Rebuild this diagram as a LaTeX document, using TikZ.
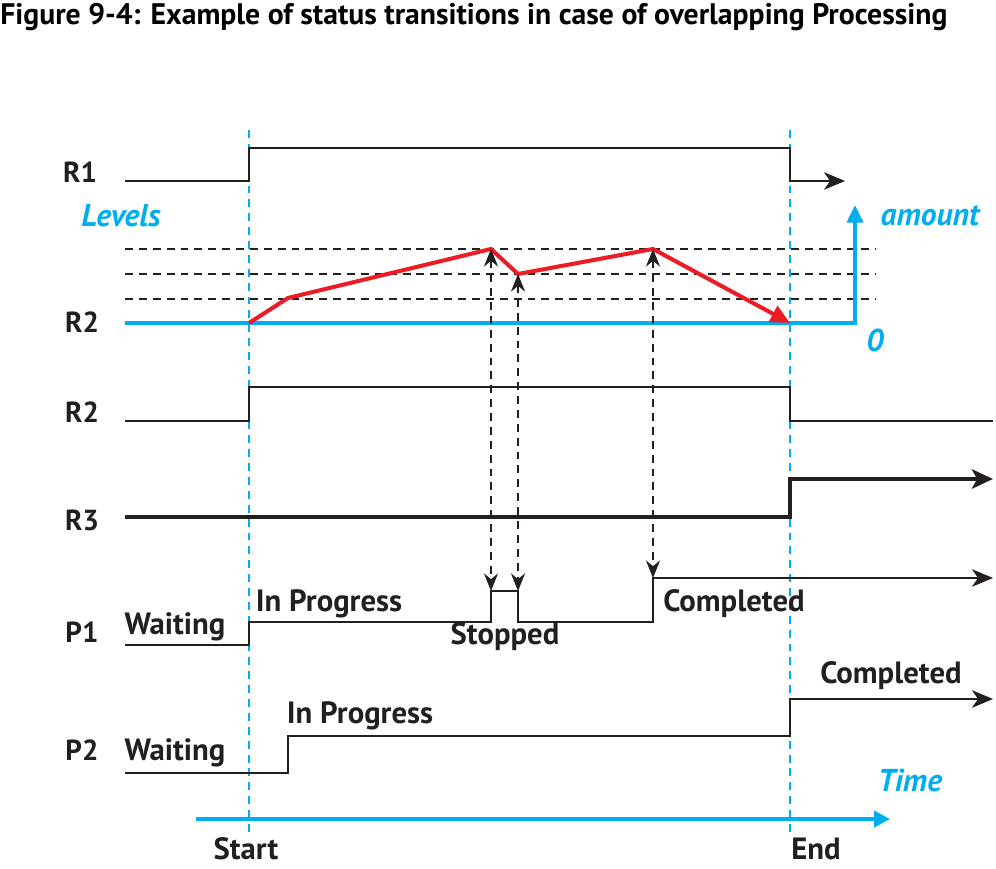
\documentclass[tikz,border=0pt]{standalone}
\usepackage{fontspec}
\setmainfont{PT Sans}
\usetikzlibrary{arrows.meta}
\definecolor{levelblue}{RGB}{0,174,239}
\definecolor{levelred}{RGB}{237,28,36}
\definecolor{inkblack}{RGB}{35,31,32}
\tikzset{
  signal/.style={line width=0.9pt, color=inkblack},
  heavysignal/.style={line width=2.6pt, color=inkblack},
  guide/.style={line width=0.7pt, color=inkblack, dash pattern=on 4.5pt off 3.4pt},
  timemark/.style={line width=0.7pt, color=levelblue, dash pattern=on 4.5pt off 3.4pt},
  sigtip/.style={-{Stealth[length=12pt, width=10pt, inset=3.5pt]}},
  rowname/.style={font=\bfseries\fontsize{16.5}{18}\selectfont, color=inkblack},
  statename/.style={font=\bfseries\fontsize{17.5}{19}\selectfont, color=inkblack},
  axisname/.style={font=\bfseries\itshape\fontsize{18}{20}\selectfont, color=levelblue}
}

\begin{document}
\begin{tikzpicture}[x=0.02cm, y=-0.02cm]
  %%%%% START %%%%%
  \useasboundingbox (0,0) rectangle (996,868);

  \node[anchor=west, font=\bfseries\fontsize{16.9}{19}\selectfont, inner sep=0pt] (title) at (0,17)
    {Figure 9-4: Example of status transitions in case of overlapping Processing};

  % start / end markers
  \coordinate (startTop) at (249,130);
  \coordinate (startBot) at (249,832);
  \coordinate (endTop) at (790,130);
  \coordinate (endBot) at (790,832);
  \draw[timemark] (startTop) -- (startBot);
  \draw[timemark] (endTop) -- (endBot);

  % R1
  \node[rowname] (r1) at (80,172) {R1};
  \draw[signal, sigtip] (125,181) -- (249,181) -- (249,148) -- (790,148) -- (790,181) -- (845,181);

  % levels
  \draw[guide] (125,249) -- (876,249);
  \draw[guide] (125,274) -- (876,274);
  \draw[guide] (125,299) -- (876,299);
  \node[axisname] (levels) at (121,216) {Levels};
  \node[axisname] (amount) at (930,216) {amount};
  \node[axisname] (zero) at (875,340) {0};
  \node[rowname] (r2a) at (82,322) {R2};
  \draw[line width=2.3pt, color=levelblue, -{Triangle[length=10pt, width=9pt]}]
    (125,323) -- (855,323) -- (855,205);

  \coordinate (rise) at (249,323);
  \coordinate (bend) at (288,298);
  \coordinate (peakA) at (491,249);
  \coordinate (dipA) at (518,274);
  \coordinate (peakB) at (653,249);
  \coordinate (empty) at (790,323);
  \draw[line width=2.3pt, color=levelred, line join=miter,
    -{Triangle[length=11pt, width=10pt]}]
    (rise) -- (bend) -- (peakA) -- (dipA) -- (peakB) -- (empty);

  % R2
  \node[rowname] (r2b) at (82,412) {R2};
  \draw[signal] (125,421) -- (249,421) -- (249,387) -- (790,387) -- (790,421) -- (993,421);

  % R3
  \node[rowname] (r3) at (82,520) {R3};
  \draw[heavysignal, -{Stealth[length=12pt, width=11pt, inset=3pt]}]
    (125,517) -- (790,517) -- (790,479) -- (993,479);

  % P1
  \coordinate (stopA) at (491,591);
  \coordinate (stopB) at (518,591);
  \coordinate (doneA) at (653,578);
  \node[rowname] (p1) at (82,632) {P1};
  \node[statename] (p1wait) at (175,627) {Waiting};
  \node[statename] (p1prog) at (329,604) {In Progress};
  \node[statename] (p1stop) at (505,637) {Stopped};
  \node[statename] (p1done) at (734,604) {Completed};
  \draw[signal, sigtip] (125,645) -- (249,645) -- (249,622) -- (491,622) -- (stopA)
    -- (stopB) -- (518,622) -- (653,622) -- (doneA) -- (993,578);

  \draw[guide, {Stealth[length=10pt, width=8pt]}-{Stealth[length=10pt, width=8pt]}] (peakA) -- (stopA);
  \draw[guide, line width=1.2pt, {Stealth[length=10pt, width=8pt]}-{Stealth[length=10pt, width=8pt]}] (dipA) -- (stopB);
  \draw[guide, {Stealth[length=10pt, width=8pt]}-{Stealth[length=10pt, width=8pt]}] (peakB) -- (doneA);

  % P2
  \node[rowname] (p2) at (82,750) {P2};
  \node[statename] (p2wait) at (175,753) {Waiting};
  \node[statename] (p2prog) at (360,716) {In Progress};
  \node[statename] (p2done) at (891,676) {Completed};
  \draw[signal, sigtip] (125,773) -- (288,773) -- (288,736) -- (790,736) -- (790,699) -- (993,699);

  % time axis
  \node[axisname] (time) at (910,780) {Time};
  \node[statename] (start) at (246,849) {Start};
  \node[statename] (end) at (816,849) {End};
  \draw[line width=2.3pt, color=levelblue, -{Triangle[length=9pt, width=9pt]}] (196,819) -- (890,819);

  %%%%% END %%%%%
\end{tikzpicture}
\end{document}
